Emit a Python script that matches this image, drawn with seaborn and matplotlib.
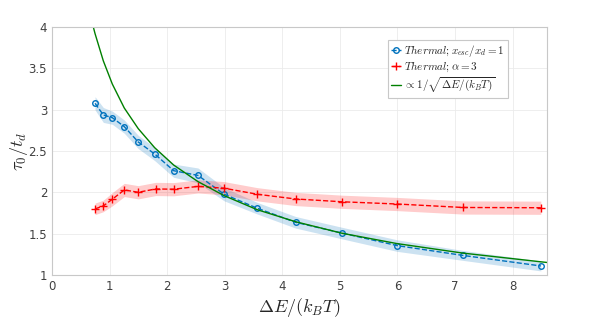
import numpy as np
import pandas as pd
import seaborn as sns
import matplotlib.pyplot as plt

# data
x_blue = [0.747, 0.891, 1.047, 1.255, 1.498, 1.783, 2.113, 2.535, 2.99, 3.565, 4.23, 5.04, 5.995, 7.14, 8.49]
y_blue = [3.077, 2.936, 2.903, 2.795, 2.609, 2.464, 2.262, 2.205, 1.977, 1.808, 1.638, 1.507, 1.356, 1.237, 1.11]
err_blue = [0.08, 0.09, 0.08, 0.08, 0.08, 0.08, 0.08, 0.09, 0.08, 0.07, 0.07, 0.07, 0.07, 0.06, 0.06]

x_red = [0.747, 0.891, 1.047, 1.255, 1.498, 1.80, 2.113, 2.535, 2.99, 3.565, 4.23, 5.04, 5.995, 7.14, 8.49]
y_red = [1.80, 1.836, 1.917, 2.029, 2.001, 2.041, 2.038, 2.072, 2.05, 1.977, 1.92, 1.886, 1.859, 1.817, 1.814]
err_red = [0.07, 0.07, 0.08, 0.08, 0.08, 0.08, 0.08, 0.08, 0.08, 0.08, 0.08, 0.08, 0.08, 0.08, 0.08]

x_green = [0.717, 0.747, 0.891, 1.047, 1.255, 1.498, 1.783, 2.113, 2.535, 2.99, 3.565, 4.23, 5.04, 5.995, 7.14, 8.49, 8.6]
y_green = [4.00, 3.92, 3.59, 3.31, 3.02, 2.77, 2.54, 2.33, 2.13, 1.96, 1.79, 1.645, 1.505, 1.38, 1.265, 1.16, 1.152]

labels = [r'$Thermal; x_{esc}/x_d=1$', r'$Thermal; \alpha=3$', r'$\propto 1/\sqrt{\Delta E/(k_BT)}$']

blue = '#0072BD'
red = '#FF0000'
green = '#008000'

sns.set_style('white')
plt.rcParams['font.family'] = ['DejaVu Sans']
plt.rcParams['mathtext.fontset'] = 'cm'

fig = plt.figure(figsize=(5.98, 3.29), dpi=100)
ax = fig.add_axes([0.087, 0.164, 0.828, 0.754])

df_b = pd.DataFrame({'x': x_blue, 'y': y_blue})
df_r = pd.DataFrame({'x': x_red, 'y': y_red})
df_g = pd.DataFrame({'x': x_green, 'y': y_green})

ax.fill_between(x_blue, np.array(y_blue) - err_blue, np.array(y_blue) + err_blue,
                color=blue, alpha=0.2, lw=0)
ax.fill_between(x_red, np.array(y_red) - err_red, np.array(y_red) + err_red,
                color=red, alpha=0.2, lw=0)

sns.lineplot(data=df_b, x='x', y='y', ax=ax, color=blue, linestyle='--', lw=1,
             marker='o', markersize=4, markerfacecolor='none', markeredgecolor=blue,
             markeredgewidth=1, sort=False, label=labels[0])
sns.lineplot(data=df_r, x='x', y='y', ax=ax, color=red, linestyle='--', lw=1,
             marker='+', markersize=5.5, markeredgecolor=red, markeredgewidth=1,
             sort=False, label=labels[1])
sns.lineplot(data=df_g, x='x', y='y', ax=ax, color=green, lw=1, sort=False, label=labels[2])

ax.set_xlim(0, 8.6)
ax.set_ylim(1, 4)
ax.set_xticks(range(0, 9))
ax.set_yticks([1, 1.5, 2, 2.5, 3, 3.5, 4])
ax.set_yticklabels(['1', '1.5', '2', '2.5', '3', '3.5', '4'])
ax.grid(True, color='#ebebeb', lw=0.6)
ax.tick_params(direction='in', length=3, color='#c8c8c8', labelcolor='#404040', labelsize=8.5)
for s in ax.spines.values():
    s.set_visible(True)
    s.set_color('#c8c8c8')
    s.set_linewidth(0.8)

ax.set_xlabel(r'$\Delta E/(k_BT)$', fontsize=13, color='#262626', labelpad=2)
ax.set_ylabel(r'$\tau_0/t_d$', fontsize=13, color='#262626')
ax.yaxis.set_label_coords(-0.044, 0.5)

leg = ax.legend(loc='upper left', bbox_to_anchor=(0.679, 0.948), fontsize=8,
                handlelength=0.9, handletextpad=0.3, borderpad=0.25, labelspacing=0.1,
                fancybox=False, framealpha=1, edgecolor='#c8c8c8', borderaxespad=0)
leg.get_frame().set_linewidth(0.8)

fig.savefig('out.png', dpi=100)
